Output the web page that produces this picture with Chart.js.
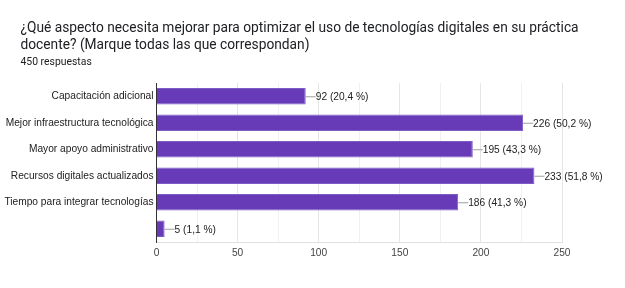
<!DOCTYPE html>
<html>
<head>
<meta charset="utf-8">
<script src="https://cdn.jsdelivr.net/npm/chart.js@4.4.1/dist/chart.umd.min.js"></script>
<style>
    body { margin: 0; background: #fff; }
    #wrap { position: relative; width: 625px; height: 288px; }
    #title {
        position: absolute; left: 20.5px; top: 18.5px; width: 590px;
        font-family: Roboto, "Noto Sans", sans-serif; font-size: 13.75px;
        line-height: 17px; color: #202124;
    }
    #sub {
        position: absolute; left: 20.5px; top: 54.5px;
        font-family: Roboto, "Noto Sans", sans-serif; font-size: 10.4px; color: #202124;
    }
    canvas { position: absolute; left: 0; top: 0; }
</style>
</head>
<body>
<div id="wrap">
    <canvas id="chart" width="625" height="288"></canvas>
    <div id="title">¿Qué aspecto necesita mejorar para optimizar el uso de tecnologías digitales en su práctica docente? (Marque todas las que correspondan)</div>
    <div id="sub">450 respuestas</div>
</div>
<script>
const categories = [
    'Capacitación adicional',
    'Mejor infraestructura tecnológica',
    'Mayor apoyo administrativo',
    'Recursos digitales actualizados',
    'Tiempo para integrar tecnologías',
    ''
];
const counts = [92, 226, 195, 233, 186, 5];
const percents = ['20,4', '50,2', '43,3', '51,8', '41,3', '1,1'];

const FONT = '"Liberation Sans", Arial, sans-serif';
const FSIZE = 10.2;

// leader line + "n (p %)" label after every bar
const barLabels = {
    id: 'barLabels',
    afterDatasetsDraw(chart) {
        const ctx = chart.ctx;
        const meta = chart.getDatasetMeta(0);
        ctx.save();
        ctx.font = FSIZE + 'px ' + FONT;
        ctx.textBaseline = 'middle';
        meta.data.forEach((bar, i) => {
            const x = bar.x, y = bar.y;
            ctx.strokeStyle = '#9e9e9e';
            ctx.lineWidth = 1;
            ctx.beginPath();
            ctx.moveTo(x, y + 0.5);
            ctx.lineTo(x + 10, y + 0.5);
            ctx.stroke();
            ctx.fillStyle = '#222';
            ctx.fillText(counts[i] + ' (' + percents[i] + ' %)', x + 10, y + 1);
        });
        ctx.restore();
    }
};

new Chart(document.getElementById('chart'), {
    type: 'bar',
    data: {
        labels: categories,
        datasets: [{
            data: counts,
            backgroundColor: '#673ab7',
            borderColor: '#7e5cc6',
            borderWidth: 1,
            barPercentage: 0.62,
            categoryPercentage: 1
        }]
    },
    options: {
        indexAxis: 'y',
        responsive: false,
        animation: false,
        layout: { padding: { left: 0, top: 83, right: 63, bottom: 26 } },
        plugins: {
            legend: { display: false },
            tooltip: { enabled: false }
        },
        scales: {
            x: {
                min: 0,
                max: 250,
                afterFit: s => { s.height = 20; },
                ticks: {
                    stepSize: 25,
                    autoSkip: false,
                    maxRotation: 0,
                    padding: 5,
                    color: '#444',
                    font: { family: FONT, size: FSIZE },
                    callback: v => (v % 50 === 0 ? v : '')
                },
                grid: {
                    color: c => (c.tick && c.tick.value % 50 === 0 ? '#e6e6e6' : '#f0f0f0'),
                    drawTicks: false
                },
                border: { color: '#e0e0e0' }
            },
            y: {
                afterFit: s => { s.width = 156.5; },
                ticks: {
                    padding: 3,
                    color: '#222',
                    font: { family: FONT, size: FSIZE }
                },
                grid: { display: false, drawTicks: false },
                border: { color: '#333' }
            }
        }
    },
    plugins: [barLabels]
});
</script>
</body>
</html>
